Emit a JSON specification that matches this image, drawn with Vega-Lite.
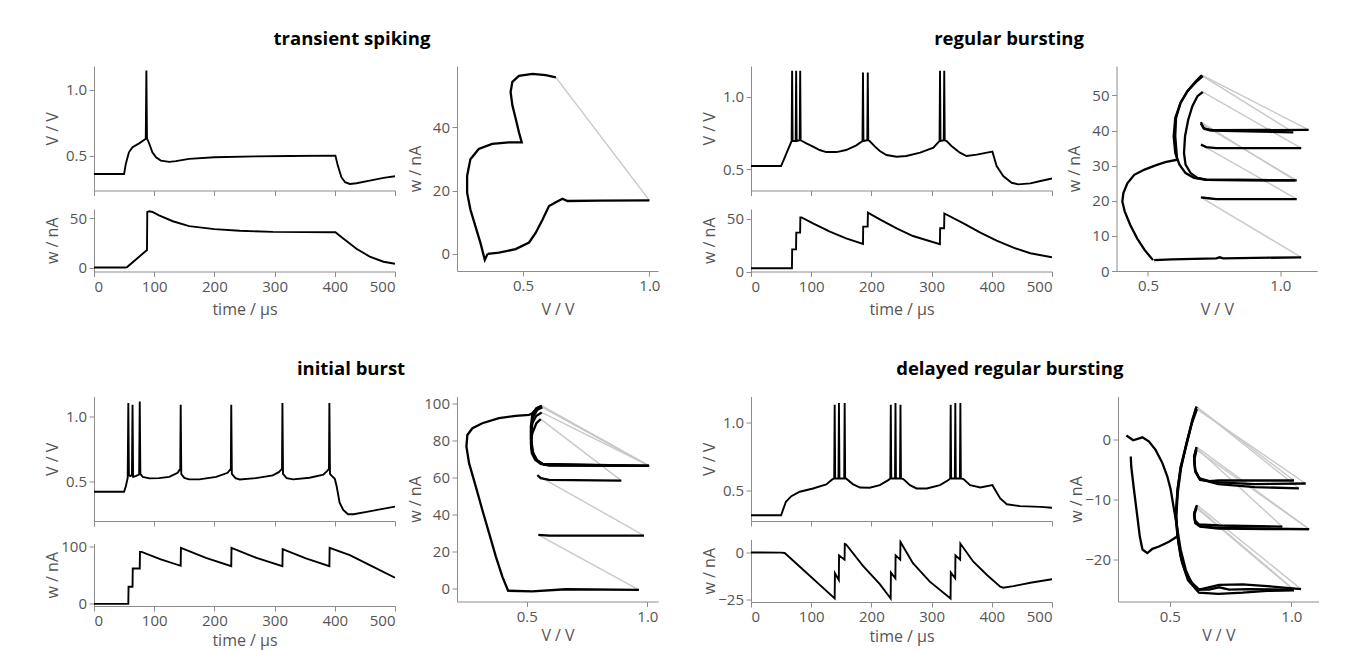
{
  "$schema": "https://vega.github.io/schema/vega-lite/v6.json",
  "padding": {"left": 44, "top": 29, "right": 5, "bottom": 5},
  "config": {
    "font": "Open Sans",
    "view": {"stroke": null},
    "axis": {"grid": false, "domainColor": "#8c8c8c", "tickColor": "#8c8c8c", "tickSize": 5, "labelFontSize": 15, "titleFontSize": 16, "labelColor": "#555", "titleColor": "#555", "titleFontWeight": "normal", "labelPadding": 2.5, "labelFont": "Open Sans", "titleFont": "Open Sans"},
    "axisY": {"minExtent": 30, "maxExtent": 30, "titlePadding": 4},
    "axisX": {"minExtent": 22, "maxExtent": 22, "titlePadding": 8},
    "title": {"fontSize": 18.5, "fontWeight": "bold", "color": "#000", "font": "Open Sans", "offset": 18, "anchor": "middle"}
  },
  "spacing": 41.5,
  "vconcat": [
    {
      "spacing": 41,
      "hconcat": [
        {
          "title": {"text": "transient spiking", "anchor": "middle"},
          "spacing": 11,
          "hconcat": [
            {
              "spacing": 13,
              "vconcat": [
                {
                  "width": 301, "height": 124.5,
                  "data": {"values": [
                    {"t":0,"V":0.36},{"t":50,"V":0.36},{"t":52.8,"V":0.437},{"t":58,"V":0.525},{"t":64,"V":0.563},{"t":75,"V":0.593},{"t":86,"V":0.628},{"t":87,"V":1.145},{"t":88,"V":0.63},{"t":92,"V":0.588},{"t":97,"V":0.525},{"t":103,"V":0.487},{"t":111,"V":0.462},{"t":125,"V":0.452},{"t":136,"V":0.458},{"t":158,"V":0.475},{"t":200,"V":0.487},{"t":269,"V":0.494},{"t":325,"V":0.497},{"t":401,"V":0.5},{"t":405,"V":0.424},{"t":411,"V":0.336},{"t":417,"V":0.298},{"t":425,"V":0.285},{"t":436,"V":0.29},{"t":458,"V":0.31},{"t":481,"V":0.331},{"t":500,"V":0.343}
                  ]},
                  "mark": {"type": "line", "color": "#000", "strokeWidth": 1.9, "clip": true},
                  "encoding": {
                    "x": {"field": "t", "type": "quantitative", "scale": {"domain": [0, 500], "nice": false}, "axis": {"values": [0,100,200,300,400,500], "labels": false, "title": null, "minExtent": 0, "maxExtent": 0}},
                    "y": {"field": "V", "type": "quantitative", "scale": {"domain": [0.235, 1.18], "nice": false, "zero": false}, "axis": {"values": [0.5, 1.0], "format": ".1f", "title": "V / V"}},
                    "order": {"value": null}
                  }
                },
                {
                  "width": 301, "height": 62.5,
                  "data": {"values": [
                    {"t":0,"w":0},{"t":52,"w":0},{"t":55,"w":0.5},{"t":86,"w":16.7},{"t":88,"w":17.5},{"t":88.5,"w":56.3},{"t":92,"w":57},{"t":97,"w":56.3},{"t":108,"w":52.8},{"t":131,"w":46.9},{"t":158,"w":42},{"t":200,"w":38.9},{"t":242,"w":37.2},{"t":297,"w":36.1},{"t":401,"w":35.8},{"t":414,"w":29.5},{"t":436,"w":19.1},{"t":458,"w":11.1},{"t":481,"w":5.9},{"t":500,"w":3.8}
                  ]},
                  "mark": {"type": "line", "color": "#000", "strokeWidth": 1.9, "clip": true},
                  "encoding": {
                    "x": {"field": "t", "type": "quantitative", "scale": {"domain": [0, 500], "nice": false}, "axis": {"values": [0,100,200,300,400,500], "title": "time / µs"}},
                    "y": {"field": "w", "type": "quantitative", "scale": {"domain": [-4, 59.3], "nice": false, "zero": false}, "axis": {"values": [0, 50], "title": "w / nA"}},
                    "order": {"value": null}
                  }
                }
              ]
            },
            {
              "width": 201, "height": 205,
              "data": {"values": [
                {"s":"b1","k":"b","V":0.36,"w":0},{"s":"b1","k":"b","V":0.405,"w":0.4},{"s":"b1","k":"b","V":0.471,"w":1.5},{"s":"b1","k":"b","V":0.524,"w":3.6},{"s":"b1","k":"b","V":0.55,"w":6.6},{"s":"b1","k":"b","V":0.577,"w":10.8},{"s":"b1","k":"b","V":0.603,"w":15.1},{"s":"b1","k":"b","V":0.63,"w":16.3},{"s":"b1","k":"b","V":0.656,"w":17.4},{"s":"b1","k":"b","V":0.676,"w":16.7},{"s":"b1","k":"b","V":0.8,"w":16.8},{"s":"b1","k":"b","V":1.0,"w":16.9},
                {"s":"g1","k":"g","V":1.0,"w":16.9},{"s":"g1","k":"g","V":0.63,"w":55.7},
                {"s":"b2","k":"b","V":0.63,"w":55.7},{"s":"b2","k":"b","V":0.59,"w":56.4},{"s":"b2","k":"b","V":0.537,"w":56.8},{"s":"b2","k":"b","V":0.484,"w":56.2},{"s":"b2","k":"b","V":0.458,"w":54.3},{"s":"b2","k":"b","V":0.451,"w":51.1},{"s":"b2","k":"b","V":0.458,"w":46.9},{"s":"b2","k":"b","V":0.471,"w":42.7},{"s":"b2","k":"b","V":0.484,"w":38.4},{"s":"b2","k":"b","V":0.495,"w":35.2},{"s":"b2","k":"b","V":0.444,"w":35.2},{"s":"b2","k":"b","V":0.378,"w":34.7},{"s":"b2","k":"b","V":0.325,"w":33.1},{"s":"b2","k":"b","V":0.292,"w":29.9},{"s":"b2","k":"b","V":0.279,"w":24.6},{"s":"b2","k":"b","V":0.279,"w":19.3},{"s":"b2","k":"b","V":0.292,"w":14.0},{"s":"b2","k":"b","V":0.312,"w":8.7},{"s":"b2","k":"b","V":0.332,"w":3.4},{"s":"b2","k":"b","V":0.349,"w":-1.9},{"s":"b2","k":"b","V":0.36,"w":0}
              ]},
              "encoding": {
                "x": {"field": "V", "type": "quantitative", "scale": {"domain": [0.239, 1.034], "nice": false, "zero": false}, "axis": {"values": [0.5, 1.0], "format": ".1f", "title": "V / V"}},
                "y": {"field": "w", "type": "quantitative", "scale": {"domain": [-5.4, 59.3], "nice": false, "zero": false}, "axis": {"values": [0, 20, 40], "title": "w / nA"}},
                "detail": {"field": "s"},
                "order": {"value": null}
              },
              "layer": [
                {"transform": [{"filter": "datum.k == 'g'"}], "mark": {"type": "line", "color": "#c8c8c8", "strokeWidth": 1.4, "clip": true}},
                {"transform": [{"filter": "datum.k == 'b'"}], "mark": {"type": "line", "color": "#000", "strokeWidth": 2.3, "clip": true}}
              ]
            }
          ]
        },
        {
          "title": {"text": "regular bursting", "anchor": "middle"},
          "spacing": 13.5,
          "hconcat": [
            {
              "spacing": 13,
              "vconcat": [
                {
                  "width": 301, "height": 124.5,
                  "data": {"values": [
                    {"t":0,"V":0.523},{"t":50,"V":0.523},{"t":67.5,"V":0.695},{"t":68.3,"V":1.177},{"t":69.1,"V":0.695},{"t":74.2,"V":0.695},{"t":75,"V":1.177},{"t":75.8,"V":0.695},{"t":80.9,"V":0.7},{"t":81.7,"V":1.177},{"t":82.5,"V":0.7},{"t":92,"V":0.679},{"t":103,"V":0.656},{"t":114,"V":0.633},{"t":125,"V":0.619},{"t":142,"V":0.619},{"t":158,"V":0.633},{"t":175,"V":0.665},{"t":185.2,"V":0.695},{"t":186,"V":1.165},{"t":186.8,"V":0.695},{"t":193.2,"V":0.7},{"t":194,"V":1.165},{"t":194.8,"V":0.7},{"t":197,"V":0.695},{"t":206,"V":0.656},{"t":214,"V":0.626},{"t":225,"V":0.599},{"t":242,"V":0.587},{"t":258,"V":0.592},{"t":281,"V":0.615},{"t":303,"V":0.649},{"t":313.2,"V":0.695},{"t":314,"V":1.177},{"t":314.8,"V":0.695},{"t":320.2,"V":0.7},{"t":321,"V":1.177},{"t":321.8,"V":0.7},{"t":325,"V":0.695},{"t":333,"V":0.661},{"t":347,"V":0.615},{"t":358,"V":0.592},{"t":375,"V":0.601},{"t":392,"V":0.615},{"t":401,"V":0.622},{"t":408,"V":0.523},{"t":419,"V":0.454},{"t":433,"V":0.408},{"t":444,"V":0.397},{"t":464,"V":0.404},{"t":481,"V":0.42},{"t":500,"V":0.438}
                  ]},
                  "mark": {"type": "line", "color": "#000", "strokeWidth": 1.9, "clip": true},
                  "encoding": {
                    "x": {"field": "t", "type": "quantitative", "scale": {"domain": [0, 500], "nice": false}, "axis": {"values": [0,100,200,300,400,500], "labels": false, "title": null, "minExtent": 0, "maxExtent": 0}},
                    "y": {"field": "V", "type": "quantitative", "scale": {"domain": [0.355, 1.21], "nice": false, "zero": false}, "axis": {"values": [0.5, 1.0], "format": ".1f", "title": "V / V"}},
                    "order": {"value": null}
                  }
                },
                {
                  "width": 301, "height": 62.5,
                  "data": {"values": [
                    {"t":0,"w":3.1},{"t":68,"w":3.1},{"t":68.4,"w":21},{"t":74.8,"w":21},{"t":75.2,"w":36.8},{"t":81.6,"w":36.8},{"t":82,"w":51.3},{"t":84,"w":51.3},{"t":103,"w":45.6},{"t":131,"w":37.7},{"t":158,"w":31.4},{"t":186,"w":26.1},{"t":186.4,"w":42.5},{"t":193.8,"w":42.5},{"t":194.2,"w":55.7},{"t":214,"w":49.4},{"t":242,"w":40.9},{"t":269,"w":33.6},{"t":313.8,"w":25.8},{"t":314.2,"w":40.9},{"t":320.8,"w":40.9},{"t":321.2,"w":55.0},{"t":353,"w":45.6},{"t":381,"w":36.8},{"t":408,"w":29.2},{"t":436,"w":22.6},{"t":464,"w":17.3},{"t":500,"w":13.5}
                  ]},
                  "mark": {"type": "line", "color": "#000", "strokeWidth": 1.9, "clip": true},
                  "encoding": {
                    "x": {"field": "t", "type": "quantitative", "scale": {"domain": [0, 500], "nice": false}, "axis": {"values": [0,100,200,300,400,500], "title": "time / µs"}},
                    "y": {"field": "w", "type": "quantitative", "scale": {"domain": [0, 59.2], "nice": false, "zero": false}, "axis": {"values": [0, 50], "title": "w / nA"}},
                    "order": {"value": null}
                  }
                }
              ]
            },
            {
              "width": 200.6, "height": 205,
              "data": {"values": [
                {"s":"b1","k":"b","V":0.523,"w":3.1},{"s":"b1","k":"b","V":0.59,"w":3.3},{"s":"b1","k":"b","V":0.758,"w":3.6},{"s":"b1","k":"b","V":0.771,"w":3.9},{"s":"b1","k":"b","V":0.784,"w":3.6},{"s":"b1","k":"b","V":1.079,"w":3.9},
                {"s":"g1","k":"g","V":1.079,"w":3.9},{"s":"g1","k":"g","V":0.7,"w":21.0},
                {"s":"b2","k":"b","V":0.7,"w":21.0},{"s":"b2","k":"b","V":0.72,"w":20.8},{"s":"b2","k":"b","V":0.758,"w":20.5},{"s":"b2","k":"b","V":1.062,"w":20.5},
                {"s":"g2","k":"g","V":1.062,"w":20.5},{"s":"g2","k":"g","V":0.7,"w":36.0},
                {"s":"b3","k":"b","V":0.7,"w":36.0},{"s":"b3","k":"b","V":0.72,"w":35.3},{"s":"b3","k":"b","V":0.758,"w":35.0},{"s":"b3","k":"b","V":1.079,"w":35.0},
                {"s":"g3","k":"g","V":1.079,"w":35.0},{"s":"g3","k":"g","V":0.707,"w":51.0},
                {"s":"b4","k":"b","V":0.707,"w":51.0},{"s":"b4","k":"b","V":0.687,"w":49.8},{"s":"b4","k":"b","V":0.668,"w":47.0},{"s":"b4","k":"b","V":0.652,"w":43.1},{"s":"b4","k":"b","V":0.64,"w":38.4},{"s":"b4","k":"b","V":0.636,"w":33.6},{"s":"b4","k":"b","V":0.642,"w":30.3},{"s":"b4","k":"b","V":0.661,"w":27.9},{"s":"b4","k":"b","V":0.687,"w":26.5},{"s":"b4","k":"b","V":0.72,"w":26.0},{"s":"b4","k":"b","V":1.056,"w":25.8},
                {"s":"g4","k":"g","V":1.056,"w":25.8},{"s":"g4","k":"g","V":0.7,"w":42.4},
                {"s":"b5","k":"b","V":0.7,"w":42.4},{"s":"b5","k":"b","V":0.709,"w":40.8},{"s":"b5","k":"b","V":0.733,"w":40.1},{"s":"b5","k":"b","V":0.784,"w":39.9},{"s":"b5","k":"b","V":1.049,"w":39.5},
                {"s":"g5","k":"g","V":1.049,"w":39.5},{"s":"g5","k":"g","V":0.707,"w":55.5},
                {"s":"b6","k":"b","V":0.707,"w":55.5},{"s":"b6","k":"b","V":0.681,"w":53.8},{"s":"b6","k":"b","V":0.649,"w":51.2},{"s":"b6","k":"b","V":0.623,"w":47.9},{"s":"b6","k":"b","V":0.603,"w":43.6},{"s":"b6","k":"b","V":0.597,"w":38.4},{"s":"b6","k":"b","V":0.603,"w":33.6},{"s":"b6","k":"b","V":0.619,"w":30.3},{"s":"b6","k":"b","V":0.642,"w":27.9},{"s":"b6","k":"b","V":0.674,"w":26.5},{"s":"b6","k":"b","V":0.72,"w":26.0},{"s":"b6","k":"b","V":1.062,"w":25.8},
                {"s":"g6","k":"g","V":1.062,"w":25.8},{"s":"g6","k":"g","V":0.7,"w":42.0},
                {"s":"b7","k":"b","V":0.7,"w":42.0},{"s":"b7","k":"b","V":0.713,"w":40.5},{"s":"b7","k":"b","V":0.745,"w":40.1},{"s":"b7","k":"b","V":1.107,"w":40.2},
                {"s":"g7","k":"g","V":1.107,"w":40.2},{"s":"g7","k":"g","V":0.704,"w":55.8},
                {"s":"b8","k":"b","V":0.704,"w":55.8},{"s":"b8","k":"b","V":0.678,"w":53.8},{"s":"b8","k":"b","V":0.649,"w":51.2},{"s":"b8","k":"b","V":0.623,"w":47.9},{"s":"b8","k":"b","V":0.606,"w":43.6},{"s":"b8","k":"b","V":0.603,"w":38.4},{"s":"b8","k":"b","V":0.607,"w":34.6},{"s":"b8","k":"b","V":0.61,"w":31.7},{"s":"b8","k":"b","V":0.565,"w":31.0},{"s":"b8","k":"b","V":0.526,"w":30.0},{"s":"b8","k":"b","V":0.487,"w":28.9},{"s":"b8","k":"b","V":0.448,"w":27.4},{"s":"b8","k":"b","V":0.422,"w":25.0},{"s":"b8","k":"b","V":0.407,"w":22.2},{"s":"b8","k":"b","V":0.403,"w":19.8},{"s":"b8","k":"b","V":0.412,"w":17.0},{"s":"b8","k":"b","V":0.433,"w":13.1},{"s":"b8","k":"b","V":0.459,"w":9.3},{"s":"b8","k":"b","V":0.487,"w":6.0},{"s":"b8","k":"b","V":0.519,"w":3.1}
              ]},
              "encoding": {
                "x": {"field": "V", "type": "quantitative", "scale": {"domain": [0.381, 1.139], "nice": false, "zero": false}, "axis": {"values": [0.5, 1.0], "format": ".1f", "title": "V / V"}},
                "y": {"field": "w", "type": "quantitative", "scale": {"domain": [0, 58.4], "nice": false, "zero": false}, "axis": {"values": [0, 10, 20, 30, 40, 50], "title": "w / nA"}},
                "detail": {"field": "s"},
                "order": {"value": null}
              },
              "layer": [
                {"transform": [{"filter": "datum.k == 'g'"}], "mark": {"type": "line", "color": "#c8c8c8", "strokeWidth": 1.4, "clip": true}},
                {"transform": [{"filter": "datum.k == 'b'"}], "mark": {"type": "line", "color": "#000", "strokeWidth": 2.3, "clip": true}}
              ]
            }
          ]
        }
      ]
    },
    {
      "spacing": 43,
      "hconcat": [
        {
          "title": {"text": "initial burst", "anchor": "middle"},
          "spacing": 11,
          "hconcat": [
            {
              "spacing": 13,
              "vconcat": [
                {
                  "width": 301, "height": 124.5,
                  "data": {"values": [
                    {"t":0,"V":0.423},{"t":50,"V":0.423},{"t":53,"V":0.467},{"t":56,"V":0.531},{"t":57,"V":1.108},{"t":58,"V":0.549},{"t":60,"V":0.545},{"t":63,"V":0.55},{"t":64,"V":1.095},{"t":65,"V":0.538},{"t":66,"V":0.538},{"t":70,"V":0.545},{"t":75,"V":0.556},{"t":76,"V":1.12},{"t":77,"V":0.56},{"t":81,"V":0.538},{"t":92,"V":0.526},{"t":108,"V":0.528},{"t":125,"V":0.538},{"t":139,"V":0.569},{"t":143.3,"V":0.6},{"t":144,"V":1.095},{"t":145,"V":0.56},{"t":150,"V":0.53},{"t":158,"V":0.518},{"t":175,"V":0.518},{"t":203,"V":0.538},{"t":222,"V":0.569},{"t":227.3,"V":0.6},{"t":228,"V":1.095},{"t":229,"V":0.56},{"t":235,"V":0.528},{"t":242,"V":0.518},{"t":269,"V":0.528},{"t":297,"V":0.549},{"t":307,"V":0.574},{"t":312.3,"V":0.6},{"t":313,"V":1.108},{"t":314,"V":0.56},{"t":320,"V":0.528},{"t":331,"V":0.518},{"t":358,"V":0.531},{"t":381,"V":0.554},{"t":387,"V":0.582},{"t":390.3,"V":0.6},{"t":391,"V":1.108},{"t":392,"V":0.56},{"t":395,"V":0.545},{"t":400,"V":0.523},{"t":403,"V":0.467},{"t":408,"V":0.338},{"t":414,"V":0.282},{"t":422,"V":0.249},{"t":431,"V":0.249},{"t":453,"V":0.267},{"t":475,"V":0.287},{"t":500,"V":0.308}
                  ]},
                  "mark": {"type": "line", "color": "#000", "strokeWidth": 1.9, "clip": true},
                  "encoding": {
                    "x": {"field": "t", "type": "quantitative", "scale": {"domain": [0, 500], "nice": false}, "axis": {"values": [0,100,200,300,400,500], "labels": false, "title": null, "minExtent": 0, "maxExtent": 0}},
                    "y": {"field": "V", "type": "quantitative", "scale": {"domain": [0.197, 1.158], "nice": false, "zero": false}, "axis": {"values": [0.5, 1.0], "format": ".1f", "title": "V / V"}},
                    "order": {"value": null}
                  }
                },
                {
                  "width": 301, "height": 62.5,
                  "data": {"values": [
                    {"t":0,"w":-1},{"t":57,"w":-1},{"t":57.4,"w":29.4},{"t":64,"w":29.4},{"t":64.4,"w":61.8},{"t":76,"w":61.8},{"t":76.4,"w":91.2},{"t":79,"w":91.2},{"t":111,"w":78},{"t":144,"w":66.5},{"t":144.4,"w":98.2},{"t":186,"w":80.5},{"t":228,"w":65.9},{"t":228.4,"w":98.2},{"t":270,"w":80.5},{"t":313,"w":65.9},{"t":313.4,"w":95.9},{"t":352,"w":79.5},{"t":391,"w":65.9},{"t":391.4,"w":98.2},{"t":425,"w":85.3},{"t":464,"w":64.7},{"t":500,"w":45.3}
                  ]},
                  "mark": {"type": "line", "color": "#000", "strokeWidth": 1.9, "clip": true},
                  "encoding": {
                    "x": {"field": "t", "type": "quantitative", "scale": {"domain": [0, 500], "nice": false}, "axis": {"values": [0,100,200,300,400,500], "title": "time / µs", "titlePadding": 4}},
                    "y": {"field": "w", "type": "quantitative", "scale": {"domain": [-4.7, 106], "nice": false, "zero": false}, "axis": {"values": [0, 100], "title": "w / nA"}},
                    "order": {"value": null}
                  }
                }
              ]
            },
            {
              "width": 201, "height": 205,
              "data": {"values": [
                {"s":"b1","k":"b","V":0.423,"w":-1},{"s":"b1","k":"b","V":0.523,"w":-1.4},{"s":"b1","k":"b","V":0.662,"w":-0.2},{"s":"b1","k":"b","V":0.965,"w":-0.5},
                {"s":"g1","k":"g","V":0.965,"w":-0.5},{"s":"g1","k":"g","V":0.548,"w":29.1},
                {"s":"b2","k":"b","V":0.548,"w":29.1},{"s":"b2","k":"b","V":0.593,"w":28.7},{"s":"b2","k":"b","V":0.986,"w":28.7},
                {"s":"g2","k":"g","V":0.986,"w":28.7},{"s":"g2","k":"g","V":0.548,"w":60.9},
                {"s":"b3","k":"b","V":0.544,"w":61.2},{"s":"b3","k":"b","V":0.558,"w":59.6},{"s":"b3","k":"b","V":0.593,"w":58.7},{"s":"b3","k":"b","V":0.892,"w":58.3},
                {"s":"g3","k":"g","V":0.892,"w":58.3},{"s":"g3","k":"g","V":0.558,"w":91.4},
                {"s":"b4","k":"b","V":0.558,"w":91.4},{"s":"b4","k":"b","V":0.54,"w":89.2},{"s":"b4","k":"b","V":0.523,"w":83.8},{"s":"b4","k":"b","V":0.517,"w":78.5},{"s":"b4","k":"b","V":0.521,"w":73.1},{"s":"b4","k":"b","V":0.535,"w":69.5},{"s":"b4","k":"b","V":0.558,"w":67.3},{"s":"b4","k":"b","V":0.593,"w":66.4},{"s":"b4","k":"b","V":1.007,"w":66.2},
                {"s":"g4","k":"g","V":1.007,"w":66.2},{"s":"g4","k":"g","V":0.562,"w":98.6},
                {"s":"b5","k":"b","V":0.562,"w":98.6},{"s":"b5","k":"b","V":0.54,"w":97.3},{"s":"b5","k":"b","V":0.523,"w":93.7},{"s":"b5","k":"b","V":0.517,"w":87.4},{"s":"b5","k":"b","V":0.517,"w":80.3},{"s":"b5","k":"b","V":0.523,"w":74.0},{"s":"b5","k":"b","V":0.54,"w":69.5},{"s":"b5","k":"b","V":0.565,"w":67.3},{"s":"b5","k":"b","V":0.593,"w":66.6},{"s":"b5","k":"b","V":1.007,"w":66.2},
                {"s":"g5","k":"g","V":1.007,"w":66.2},{"s":"g5","k":"g","V":0.565,"w":97.8},
                {"s":"b6","k":"b","V":0.565,"w":97.8},{"s":"b6","k":"b","V":0.543,"w":96.3},{"s":"b6","k":"b","V":0.526,"w":92.5},{"s":"b6","k":"b","V":0.519,"w":86.0},{"s":"b6","k":"b","V":0.52,"w":79.0},{"s":"b6","k":"b","V":0.527,"w":73.0},{"s":"b6","k":"b","V":0.545,"w":69.0},{"s":"b6","k":"b","V":0.57,"w":67.0},{"s":"b6","k":"b","V":1.007,"w":66.2},
                {"s":"g6","k":"g","V":1.007,"w":66.2},{"s":"g6","k":"g","V":0.562,"w":95.0},
                {"s":"b7","k":"b","V":0.562,"w":95.0},{"s":"b7","k":"b","V":0.54,"w":93.2},{"s":"b7","k":"b","V":0.523,"w":89.2},{"s":"b7","k":"b","V":0.518,"w":82.0},{"s":"b7","k":"b","V":0.521,"w":74.9},{"s":"b7","k":"b","V":0.537,"w":69.5},{"s":"b7","k":"b","V":0.565,"w":67.3},{"s":"b7","k":"b","V":1.007,"w":66.2},
                {"s":"g7","k":"g","V":1.007,"w":66.2},{"s":"g7","k":"g","V":0.562,"w":98.6},
                {"s":"b8","k":"b","V":0.562,"w":98.6},{"s":"b8","k":"b","V":0.54,"w":97.1},{"s":"b8","k":"b","V":0.523,"w":94.6},{"s":"b8","k":"b","V":0.51,"w":93.7},{"s":"b8","k":"b","V":0.454,"w":93.2},{"s":"b8","k":"b","V":0.385,"w":91.9},{"s":"b8","k":"b","V":0.316,"w":89.2},{"s":"b8","k":"b","V":0.275,"w":86.5},{"s":"b8","k":"b","V":0.254,"w":82.9},{"s":"b8","k":"b","V":0.25,"w":76.7},{"s":"b8","k":"b","V":0.261,"w":67.7},{"s":"b8","k":"b","V":0.289,"w":55.1},{"s":"b8","k":"b","V":0.316,"w":42.5},{"s":"b8","k":"b","V":0.344,"w":30.0},{"s":"b8","k":"b","V":0.372,"w":17.4},{"s":"b8","k":"b","V":0.399,"w":6.6},{"s":"b8","k":"b","V":0.424,"w":-1.4}
              ]},
              "encoding": {
                "x": {"field": "V", "type": "quantitative", "scale": {"domain": [0.211, 1.044], "nice": false, "zero": false}, "axis": {"values": [0.5, 1.0], "format": ".1f", "title": "V / V", "titlePadding": 4}},
                "y": {"field": "w", "type": "quantitative", "scale": {"domain": [-6.8, 103.6], "nice": false, "zero": false}, "axis": {"values": [0, 20, 40, 60, 80, 100], "title": "w / nA"}},
                "detail": {"field": "s"},
                "order": {"value": null}
              },
              "layer": [
                {"transform": [{"filter": "datum.k == 'g'"}], "mark": {"type": "line", "color": "#c8c8c8", "strokeWidth": 1.4, "clip": true}},
                {"transform": [{"filter": "datum.k == 'b'"}], "mark": {"type": "line", "color": "#000", "strokeWidth": 2.3, "clip": true}}
              ]
            }
          ]
        },
        {
          "title": {"text": "delayed regular bursting", "anchor": "middle"},
          "spacing": 15,
          "hconcat": [
            {
              "spacing": 13,
              "vconcat": [
                {
                  "width": 301, "height": 124.5,
                  "data": {"values": [
                    {"t":0,"V":0.322},{"t":50,"V":0.322},{"t":53,"V":0.359},{"t":58,"V":0.42},{"t":67,"V":0.461},{"t":81,"V":0.493},{"t":103,"V":0.517},{"t":125,"V":0.546},{"t":135,"V":0.583},{"t":138.2,"V":0.59},{"t":139,"V":1.127},{"t":139.8,"V":0.59},{"t":145.3,"V":0.59},{"t":146.1,"V":1.139},{"t":146.9,"V":0.59},{"t":154.8,"V":0.59},{"t":155.6,"V":1.139},{"t":156.4,"V":0.59},{"t":158,"V":0.59},{"t":169,"V":0.549},{"t":181,"V":0.524},{"t":197,"V":0.522},{"t":214,"V":0.541},{"t":228,"V":0.578},{"t":231.4,"V":0.59},{"t":232.2,"V":1.127},{"t":233,"V":0.59},{"t":239.2,"V":0.59},{"t":240,"V":1.139},{"t":240.8,"V":0.59},{"t":247.5,"V":0.59},{"t":248.3,"V":1.127},{"t":249.1,"V":0.59},{"t":253,"V":0.585},{"t":264,"V":0.541},{"t":275,"V":0.517},{"t":292,"V":0.517},{"t":314,"V":0.541},{"t":328,"V":0.578},{"t":330.9,"V":0.59},{"t":331.7,"V":1.127},{"t":332.5,"V":0.59},{"t":338.6,"V":0.59},{"t":339.4,"V":1.139},{"t":340.2,"V":0.59},{"t":347,"V":0.59},{"t":347.8,"V":1.139},{"t":348.6,"V":0.59},{"t":353,"V":0.585},{"t":364,"V":0.541},{"t":381,"V":0.524},{"t":401,"V":0.541},{"t":414,"V":0.444},{"t":425,"V":0.402},{"t":447,"V":0.388},{"t":481,"V":0.383},{"t":500,"V":0.376}
                  ]},
                  "mark": {"type": "line", "color": "#000", "strokeWidth": 1.9, "clip": true},
                  "encoding": {
                    "x": {"field": "t", "type": "quantitative", "scale": {"domain": [0, 500], "nice": false}, "axis": {"values": [0,100,200,300,400,500], "labels": false, "title": null, "minExtent": 0, "maxExtent": 0}},
                    "y": {"field": "V", "type": "quantitative", "scale": {"domain": [0.28, 1.187], "nice": false, "zero": false}, "axis": {"values": [0.5, 1.0], "format": ".1f", "title": "V / V"}},
                    "order": {"value": null}
                  }
                },
                {
                  "width": 301, "height": 62.5,
                  "data": {"values": [
                    {"t":0,"w":0.3},{"t":50,"w":0.2},{"t":56,"w":0},{"t":139,"w":-24.6},{"t":139.4,"w":-10.9},{"t":145.9,"w":-14.6},{"t":146.3,"w":-1.3},{"t":155.4,"w":-3.6},{"t":155.8,"w":4.9},{"t":158,"w":4.6},{"t":186,"w":-7.0},{"t":214,"w":-16.8},{"t":232,"w":-24.6},{"t":232.4,"w":-10.6},{"t":239.8,"w":-13.7},{"t":240.2,"w":-1.3},{"t":247.9,"w":-3.6},{"t":248.3,"w":6.0},{"t":269,"w":-5.5},{"t":297,"w":-15.5},{"t":331.5,"w":-24.6},{"t":331.9,"w":-10.6},{"t":339.2,"w":-13.7},{"t":339.6,"w":-1.3},{"t":347.4,"w":-3.6},{"t":347.8,"w":5.1},{"t":369,"w":-4.6},{"t":392,"w":-11.9},{"t":414,"w":-18.2},{"t":419,"w":-18.8},{"t":436,"w":-17.9},{"t":464,"w":-16.1},{"t":500,"w":-14.2}
                  ]},
                  "mark": {"type": "line", "color": "#000", "strokeWidth": 1.9, "clip": true},
                  "encoding": {
                    "x": {"field": "t", "type": "quantitative", "scale": {"domain": [0, 500], "nice": false}, "axis": {"values": [0,100,200,300,400,500], "title": "time / µs", "titlePadding": 4}},
                    "y": {"field": "w", "type": "quantitative", "scale": {"domain": [-26.5, 7.3], "nice": false, "zero": false}, "axis": {"values": [-25, 0], "title": "w / nA"}},
                    "order": {"value": null}
                  }
                }
              ]
            },
            {
              "width": 200.6, "height": 205,
              "data": {"values": [
                {"s":"b1","k":"b","V":0.322,"w":0.6},{"s":"b1","k":"b","V":0.35,"w":-0.2},{"s":"b1","k":"b","V":0.388,"w":0.3},{"s":"b1","k":"b","V":0.415,"w":-0.4},{"s":"b1","k":"b","V":0.442,"w":-1.8},{"s":"b1","k":"b","V":0.47,"w":-4.0},{"s":"b1","k":"b","V":0.49,"w":-6.2},{"s":"b1","k":"b","V":0.504,"w":-8.4},{"s":"b1","k":"b","V":0.518,"w":-11.8},{"s":"b1","k":"b","V":0.532,"w":-15.1},{"s":"b1","k":"b","V":0.545,"w":-18.4},{"s":"b1","k":"b","V":0.566,"w":-21.8},{"s":"b1","k":"b","V":0.586,"w":-23.7},{"s":"b1","k":"b","V":0.614,"w":-25.1},{"s":"b1","k":"b","V":0.662,"w":-25.1},{"s":"b1","k":"b","V":0.703,"w":-24.7},{"s":"b1","k":"b","V":0.744,"w":-25.1},{"s":"b1","k":"b","V":0.826,"w":-25.0},{"s":"b1","k":"b","V":1.011,"w":-25.1},
                {"s":"g1","k":"g","V":1.011,"w":-25.1},{"s":"g1","k":"g","V":0.61,"w":-11.3},
                {"s":"b2","k":"b","V":0.61,"w":-11.3},{"s":"b2","k":"b","V":0.6,"w":-12.5},{"s":"b2","k":"b","V":0.604,"w":-13.6},{"s":"b2","k":"b","V":0.62,"w":-14.2},{"s":"b2","k":"b","V":0.662,"w":-14.3},{"s":"b2","k":"b","V":0.703,"w":-14.4},{"s":"b2","k":"b","V":0.963,"w":-14.6},
                {"s":"g2","k":"g","V":0.963,"w":-14.6},{"s":"g2","k":"g","V":0.61,"w":-1.5},
                {"s":"b3","k":"b","V":0.61,"w":-1.5},{"s":"b3","k":"b","V":0.6,"w":-2.9},{"s":"b3","k":"b","V":0.604,"w":-5.1},{"s":"b3","k":"b","V":0.62,"w":-6.5},{"s":"b3","k":"b","V":0.662,"w":-7.0},{"s":"b3","k":"b","V":0.703,"w":-6.9},{"s":"b3","k":"b","V":1.011,"w":-6.9},
                {"s":"g3","k":"g","V":1.011,"w":-6.9},{"s":"g3","k":"g","V":0.61,"w":5.4},
                {"s":"b4","k":"b","V":0.61,"w":5.4},{"s":"b4","k":"b","V":0.593,"w":3.2},{"s":"b4","k":"b","V":0.573,"w":-0.1},{"s":"b4","k":"b","V":0.545,"w":-4.6},{"s":"b4","k":"b","V":0.532,"w":-8.4},{"s":"b4","k":"b","V":0.525,"w":-12.9},{"s":"b4","k":"b","V":0.532,"w":-16.2},{"s":"b4","k":"b","V":0.545,"w":-19.6},{"s":"b4","k":"b","V":0.566,"w":-22.3},{"s":"b4","k":"b","V":0.593,"w":-24.0},{"s":"b4","k":"b","V":0.621,"w":-25.1},{"s":"b4","k":"b","V":0.703,"w":-24.3},{"s":"b4","k":"b","V":0.8,"w":-24.2},{"s":"b4","k":"b","V":0.9,"w":-24.5},{"s":"b4","k":"b","V":1.04,"w":-25.0},
                {"s":"g4","k":"g","V":1.04,"w":-25.0},{"s":"g4","k":"g","V":0.612,"w":-11.0},
                {"s":"b5","k":"b","V":0.612,"w":-11.0},{"s":"b5","k":"b","V":0.601,"w":-12.3},{"s":"b5","k":"b","V":0.606,"w":-13.9},{"s":"b5","k":"b","V":0.625,"w":-14.5},{"s":"b5","k":"b","V":0.7,"w":-14.8},{"s":"b5","k":"b","V":1.073,"w":-15.0},
                {"s":"g5","k":"g","V":1.073,"w":-15.0},{"s":"g5","k":"g","V":0.61,"w":-1.8},
                {"s":"b6","k":"b","V":0.61,"w":-1.8},{"s":"b6","k":"b","V":0.601,"w":-3.5},{"s":"b6","k":"b","V":0.606,"w":-5.5},{"s":"b6","k":"b","V":0.625,"w":-6.8},{"s":"b6","k":"b","V":0.7,"w":-7.2},{"s":"b6","k":"b","V":0.85,"w":-7.5},{"s":"b6","k":"b","V":1.059,"w":-7.4},
                {"s":"g6","k":"g","V":1.059,"w":-7.4},{"s":"g6","k":"g","V":0.612,"w":5.0},
                {"s":"b7","k":"b","V":0.612,"w":5.0},{"s":"b7","k":"b","V":0.59,"w":2.5},{"s":"b7","k":"b","V":0.57,"w":-0.5},{"s":"b7","k":"b","V":0.546,"w":-5.0},{"s":"b7","k":"b","V":0.533,"w":-9.0},{"s":"b7","k":"b","V":0.527,"w":-13.0},{"s":"b7","k":"b","V":0.535,"w":-17.0},{"s":"b7","k":"b","V":0.55,"w":-20.5},{"s":"b7","k":"b","V":0.575,"w":-23.5},{"s":"b7","k":"b","V":0.62,"w":-25.6},{"s":"b7","k":"b","V":0.7,"w":-25.8},{"s":"b7","k":"b","V":0.8,"w":-25.6},{"s":"b7","k":"b","V":0.9,"w":-25.3},{"s":"b7","k":"b","V":1.011,"w":-25.2},
                {"s":"g7","k":"g","V":1.011,"w":-25.2},{"s":"g7","k":"g","V":0.61,"w":-11.5},
                {"s":"b8","k":"b","V":0.61,"w":-11.5},{"s":"b8","k":"b","V":0.6,"w":-12.8},{"s":"b8","k":"b","V":0.605,"w":-14.0},{"s":"b8","k":"b","V":0.625,"w":-14.6},{"s":"b8","k":"b","V":0.7,"w":-14.9},{"s":"b8","k":"b","V":0.9,"w":-15.0},{"s":"b8","k":"b","V":1.073,"w":-15.0},
                {"s":"g8","k":"g","V":1.073,"w":-15.0},{"s":"g8","k":"g","V":0.61,"w":-1.3},
                {"s":"b9","k":"b","V":0.61,"w":-1.3},{"s":"b9","k":"b","V":0.601,"w":-3.0},{"s":"b9","k":"b","V":0.605,"w":-5.3},{"s":"b9","k":"b","V":0.625,"w":-6.7},{"s":"b9","k":"b","V":0.7,"w":-7.5},{"s":"b9","k":"b","V":0.85,"w":-8.0},{"s":"b9","k":"b","V":1.031,"w":-8.2},
                {"s":"g9","k":"g","V":1.031,"w":-8.2},{"s":"g9","k":"g","V":0.61,"w":5.4},
                {"s":"b10","k":"b","V":0.61,"w":5.4},{"s":"b10","k":"b","V":0.593,"w":3.0},{"s":"b10","k":"b","V":0.573,"w":-0.3},{"s":"b10","k":"b","V":0.545,"w":-4.8},{"s":"b10","k":"b","V":0.532,"w":-8.6},{"s":"b10","k":"b","V":0.526,"w":-12.5},{"s":"b10","k":"b","V":0.532,"w":-16.2},{"s":"b10","k":"b","V":0.497,"w":-17.1},{"s":"b10","k":"b","V":0.456,"w":-17.9},{"s":"b10","k":"b","V":0.429,"w":-18.3},{"s":"b10","k":"b","V":0.408,"w":-19.0},{"s":"b10","k":"b","V":0.388,"w":-18.4},{"s":"b10","k":"b","V":0.377,"w":-16.2},{"s":"b10","k":"b","V":0.367,"w":-12.9},{"s":"b10","k":"b","V":0.353,"w":-8.4},{"s":"b10","k":"b","V":0.342,"w":-4.6},{"s":"b10","k":"b","V":0.34,"w":-2.9}
              ]},
              "encoding": {
                "x": {"field": "V", "type": "quantitative", "scale": {"domain": [0.2875, 1.112], "nice": false, "zero": false}, "axis": {"values": [0.5, 1.0], "format": ".1f", "title": "V / V", "titlePadding": 4}},
                "y": {"field": "w", "type": "quantitative", "scale": {"domain": [-27.07, 7.1], "nice": false, "zero": false}, "axis": {"values": [-20, -10, 0], "title": "w / nA"}},
                "detail": {"field": "s"},
                "order": {"value": null}
              },
              "layer": [
                {"transform": [{"filter": "datum.k == 'g'"}], "mark": {"type": "line", "color": "#c8c8c8", "strokeWidth": 1.4, "clip": true}},
                {"transform": [{"filter": "datum.k == 'b'"}], "mark": {"type": "line", "color": "#000", "strokeWidth": 2.3, "clip": true}}
              ]
            }
          ]
        }
      ]
    }
  ]
}
